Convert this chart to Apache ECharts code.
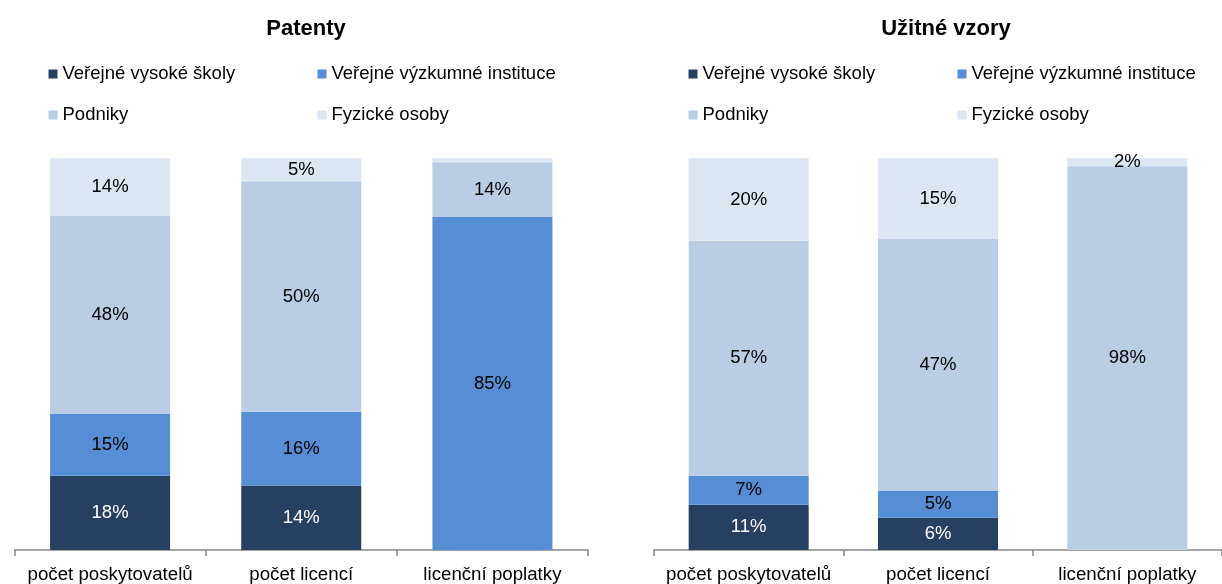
<!DOCTYPE html>
<html>
<head>
<meta charset="utf-8">
<script src="https://cdn.jsdelivr.net/npm/echarts@6/dist/echarts.min.js"></script>
<style>
  html, body { margin: 0; padding: 0; background: #fff; }
  #chart { width: 1222px; height: 584px; }
</style>
</head>
<body>
<div id="chart"></div>
<script>
const categories = ['počet poskytovatelů', 'počet licencí', 'licenční poplatky']
const seriesNames = ['Veřejné vysoké školy', 'Veřejné výzkumné instituce', 'Podniky', 'Fyzické osoby']
const colors = ['#264061', '#558ED5', '#B9CDE5', '#DCE6F2']

// Patenty (podíl v %)
const patVVS = [18, 14, 0]
const patVVI = [15, 16, 85]
const patPodniky = [48, 50, 14]
const patFO = [14, 5, 1]

// Užitné vzory (podíl v %)
const uvVVS = [11, 6, 0]
const uvVVI = [7, 5, 0]
const uvPodniky = [57, 47, 98]
const uvFO = [20, 15, 2]

const font = 'Liberation Sans, Arial, sans-serif'

// sloupce jsou vždy do 100 %
function buildSeries (groups, stack, gridIndex) {
  let totals = categories.map((c, i) => groups.reduce((s, g) => s + g[i], 0))
  return groups.map((g, k) => {
    return {
      name: seriesNames[k],
      type: 'bar',
      stack: stack,
      xAxisIndex: gridIndex,
      yAxisIndex: gridIndex,
      barWidth: 120,
      data: g.map((v, i) => ({ value: v / totals[i] * 100, raw: v })),
      itemStyle: { color: colors[k] },
      label: {
        show: true,
        position: 'inside',
        fontFamily: font,
        fontSize: 18.5,
        color: k === 0 ? '#fff' : '#000',
        formatter: p => p.data.raw >= 1.5 ? p.data.raw + '%' : ''
      }
    }
  })
}

function xAxis (gridIndex) {
  return {
    type: 'category',
    gridIndex: gridIndex,
    data: categories,
    axisLine: { lineStyle: { color: '#868686', width: 1.5 } },
    axisTick: { show: true, length: 6, lineStyle: { color: '#868686', width: 1.5 } },
    axisLabel: { interval: 0, color: '#000', fontFamily: font, fontSize: 18.7, margin: 15 }
  }
}

function yAxis (gridIndex) {
  return {
    type: 'value',
    gridIndex: gridIndex,
    min: 0,
    max: 100,
    show: false,
    splitLine: { show: false }
  }
}

function legend (left, names) {
  return {
    orient: 'vertical',
    left: left,
    top: 64,
    padding: 0,
    itemWidth: 9,
    itemHeight: 9,
    itemGap: 21,
    icon: 'rect',
    data: names,
    textStyle: { color: '#000', fontFamily: font, fontSize: 18.5, lineHeight: 20 }
  }
}

let chart = echarts.init(document.getElementById('chart'), null, { renderer: 'canvas' })
let option = {
  animation: false,
  backgroundColor: '#fff',
  title: [
    { text: 'Patenty', left: 301, top: 13, textAlign: 'center', textStyle: { fontFamily: font, fontSize: 22, fontWeight: 'bold', color: '#000' } },
    { text: 'Užitné vzory', left: 941, top: 13, textAlign: 'center', textStyle: { fontFamily: font, fontSize: 22, fontWeight: 'bold', color: '#000' } }
  ],
  legend: [
    legend(48.5, [seriesNames[0], seriesNames[2]]),
    legend(317.5, [seriesNames[1], seriesNames[3]]),
    legend(688.5, [seriesNames[0], seriesNames[2]]),
    legend(957.5, [seriesNames[1], seriesNames[3]])
  ],
  grid: [
    { left: 14.5, top: 158.3, width: 573.5, height: 392.7 },
    { left: 654, top: 158.3, width: 574, height: 392.7 }
  ],
  xAxis: [xAxis(0), xAxis(1)],
  yAxis: [yAxis(0), yAxis(1)],
  series: buildSeries([patVVS, patVVI, patPodniky, patFO], 'pat', 0)
    .concat(buildSeries([uvVVS, uvVVI, uvPodniky, uvFO], 'uv', 1))
}
chart.setOption(option)
</script>
</body>
</html>
